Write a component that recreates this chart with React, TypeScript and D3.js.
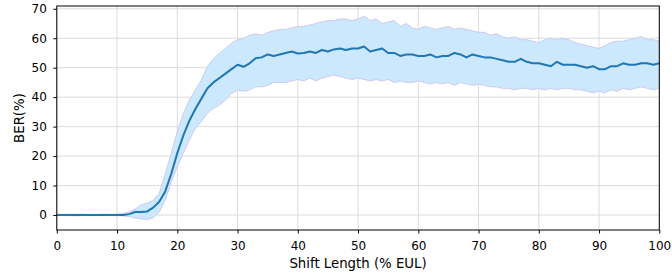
import React, { useEffect, useRef } from 'react';
import * as d3 from 'd3';

// shift length (% EUL), one sample per unit
const shift = d3.range(0, 101);

const berMean = [
  0, 0, 0, 0, 0, 0, 0, 0, 0, 0,
  0, 0, 0.3, 1, 1, 1.2, 2.5, 4.5, 8, 14,
  21, 27, 32, 36, 39.5, 43, 45, 46.5, 48, 49.5,
  51, 50.3, 51.5, 53.2, 53.5, 54.5, 54, 54.5, 55, 55.5,
  54.8, 55, 55.5, 55, 56, 55.5, 56.2, 56.5, 56, 56.5,
  56.5, 57.2, 55.5, 56, 56.5, 55, 55, 54, 54.5, 54.5,
  54, 54, 54.5, 53.5, 54, 54, 55, 54.5, 53.5, 54.5,
  54, 53.5, 53.5, 53, 52.5, 52, 52, 53, 52, 51.5,
  51.5, 51, 50.5, 52, 51, 51, 51, 50.5, 50, 50.5,
  49.5, 49.5, 50.5, 50.5, 51.5, 51, 51, 51.5, 51.5, 51, 51.5,
];

const berUpper = [
  0.2, 0.2, 0.3, 0.2, 0.3, 0.2, 0.2, 0.2, 0.3, 0.2,
  0.3, 0.5, 1, 2, 3.5, 4, 5, 7.4, 14, 21,
  28.3, 34.5, 39, 42.4, 45.8, 50.5, 53, 54.9, 56.6, 58.3,
  59.4, 60, 61, 61.5, 61, 62, 62.5, 63, 63, 63.5,
  64, 64, 64.5, 65, 65.5, 66, 66, 66.5, 66.5, 66,
  66.5, 67.5, 66, 66.5, 65, 65.5, 66, 64, 65, 63.5,
  63, 64, 63.5, 63, 63.5, 64, 63, 63.5, 63, 62.5,
  62, 62, 61, 61.5, 60.5, 60, 60.5, 59.5, 59.5, 59,
  58.5, 59.5, 60, 59.5, 60, 59.5, 58.5, 58, 57.5, 57,
  56.5, 57.5, 58.5, 59, 59, 59.5, 60, 60.5, 59.5, 59.5, 59,
];

const berLower = [
  -0.2, -0.2, -0.2, -0.3, -0.2, -0.2, -0.2, -0.2, -0.2, -0.2,
  -0.2, -0.3, -0.5, -1, -1.3, -1.5, -1, 1, 5, 11.3,
  16.4, 21, 25.5, 29.4, 31.7, 34.5, 36.2, 37.3, 39, 41.3,
  42.4, 42, 42.5, 43.5, 43.5, 44, 45, 45, 45, 45.5,
  46, 45.5, 46.5, 45.5, 46.5, 47, 47.5, 47, 46.5, 46,
  46.5, 46, 45.5, 46, 45.5, 46, 45, 45.5, 45, 45,
  45.5, 45, 44.5, 45, 44.5, 45, 44, 45, 44.5, 44,
  44.5, 44, 43.5, 43.5, 43, 43, 42.5, 43, 43, 42.5,
  43, 42.5, 43, 42.5, 43, 43, 42.5, 42.5, 42, 41.5,
  42, 41.5, 42.5, 42, 43, 42.5, 43, 43.5, 43, 42.5, 43,
];

const xTicks = [0, 10, 20, 30, 40, 50, 60, 70, 80, 90, 100];
const yTicks = [0, 10, 20, 30, 40, 50, 60, 70];

const App: React.FC = () => {
  const svgRef = useRef<SVGSVGElement>(null);

  useEffect(() => {
    document.body.style.margin = '0';
    if (!svgRef.current) return;
    const svg = d3.select(svgRef.current);
    svg.selectAll('*').remove();

    const left = 56.8, right = 659.3, top = 6, bottom = 230;
    const font = 'DejaVu Sans, sans-serif';

    const x = d3.scaleLinear().domain([0, 100]).range([left, right]);
    const y = d3.scaleLinear().domain([-5.09, 70.94]).range([bottom, top]);

    // grid
    const grid = svg.append('g').attr('stroke', '#dcdcdc').attr('stroke-width', 1);
    xTicks.forEach(t => {
      grid.append('line').attr('x1', x(t)).attr('x2', x(t)).attr('y1', top).attr('y2', bottom);
    });
    yTicks.forEach(t => {
      grid.append('line').attr('x1', left).attr('x2', right).attr('y1', y(t)).attr('y2', y(t));
    });

    // band
    const area = d3.area<number>()
      .x(d => x(shift[d]))
      .y0(d => y(berLower[d]))
      .y1(d => y(berUpper[d]));
    svg.append('path')
      .attr('d', area(shift.map((_, i) => i)) as string)
      .attr('fill', '#cce8fd')
      .attr('stroke', '#cdcaf2')
      .attr('stroke-width', 1);

    // mean line
    const line = d3.line<number>()
      .x(d => x(shift[d]))
      .y(d => y(berMean[d]));
    svg.append('path')
      .attr('d', line(shift.map((_, i) => i)) as string)
      .attr('fill', 'none')
      .attr('stroke', '#1f77b4')
      .attr('stroke-width', 2)
      .attr('stroke-linejoin', 'round');

    // frame
    svg.append('rect')
      .attr('x', left).attr('y', top)
      .attr('width', right - left).attr('height', bottom - top)
      .attr('fill', 'none').attr('stroke', '#000').attr('stroke-width', 1);

    // axes
    const xAxis = svg.append('g')
      .attr('transform', `translate(0,${bottom})`)
      .call(d3.axisBottom(x).tickValues(xTicks).tickSize(3.5).tickPadding(8).tickFormat(d3.format('d')));
    const yAxis = svg.append('g')
      .attr('transform', `translate(${left},0)`)
      .call(d3.axisLeft(y).tickValues(yTicks).tickSize(3.5).tickPadding(6.5).tickFormat(d3.format('d')));
    [xAxis, yAxis].forEach(a => {
      a.select('.domain').remove();
      a.selectAll('line').attr('stroke', '#000');
      a.selectAll('text').attr('fill', '#000').style('font-family', font).style('font-size', '12px');
    });

    svg.append('text')
      .attr('x', (left + right) / 2).attr('y', 268)
      .attr('text-anchor', 'middle')
      .style('font-family', font).style('font-size', '13.3px')
      .text('Shift Length (% EUL)');

    svg.append('text')
      .attr('transform', `translate(24,${(top + bottom) / 2}) rotate(-90)`)
      .attr('text-anchor', 'middle')
      .style('font-family', font).style('font-size', '13.3px')
      .text('BER(%)');
  }, []);

  return (
    <svg ref={svgRef} width={672} height={274}
      style={{ position: 'absolute', left: 0, top: 0, background: '#fff' }} />
  );
};

export default App;
